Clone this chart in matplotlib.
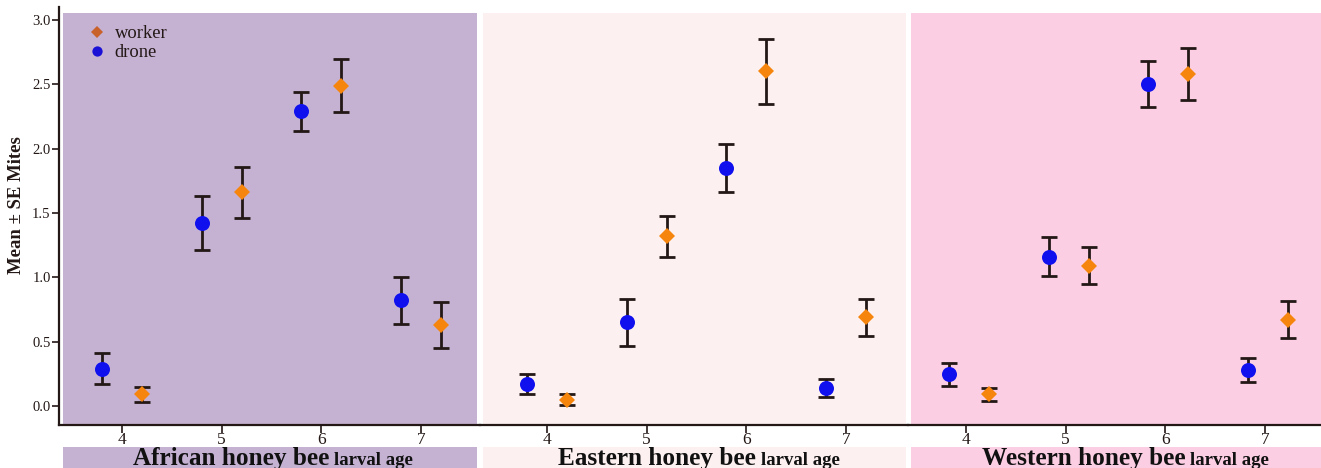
import matplotlib
matplotlib.use("Agg")
import matplotlib.pyplot as plt
from matplotlib.lines import Line2D
from matplotlib.patches import Rectangle
import matplotlib.transforms as mtransforms

plt.rcParams['font.family'] = ['Liberation Serif', 'DejaVu Serif']

# ---------------- data ----------------
ages = [4, 5, 6, 7]
species = ["African honey bee", "Eastern honey bee", "Western honey bee"]
xlabel_suffix = "larval age"

drone_mean = {
    "African honey bee": [0.29, 1.42, 2.29, 0.82],
    "Eastern honey bee": [0.17, 0.65, 1.85, 0.14],
    "Western honey bee": [0.245, 1.16, 2.50, 0.28],
}
drone_se = {
    "African honey bee": [0.12, 0.21, 0.15, 0.18],
    "Eastern honey bee": [0.08, 0.18, 0.185, 0.07],
    "Western honey bee": [0.09, 0.15, 0.18, 0.09],
}
worker_mean = {
    "African honey bee": [0.09, 1.66, 2.49, 0.63],
    "Eastern honey bee": [0.05, 1.32, 2.60, 0.69],
    "Western honey bee": [0.09, 1.09, 2.58, 0.67],
}
worker_se = {
    "African honey bee": [0.056, 0.20, 0.205, 0.18],
    "Eastern honey bee": [0.045, 0.16, 0.255, 0.145],
    "Western honey bee": [0.05, 0.145, 0.205, 0.145],
}
yticks = [0.0, 0.5, 1.0, 1.5, 2.0, 2.5, 3.0]
ylabel = "Mean \u00b1 SE Mites"
legend_labels = ["worker", "drone"]

# ---------------- style ----------------
W, H = 1321, 468
DPI = 100
PXU = 99.6  # pixels per x unit
panel_bg = ["#c5b2d3", "#fdf0f0", "#fbcee3"]
worker_col = "#f5850c"
drone_col = "#1010ee"
err_col = "#231816"
dark = "#231816"

# axes pixel extents (left, right), pixel of tick 4, bg extents
ax_px = [(59, 480, 122, 63, 477.3), (480, 908, 547, 482.7, 906), (908, 1321, 966, 910.7, 1330)]
dodge_shift = [0.0, 0.0, 0.03]
split_px = [332, 758, 1188]

ax_bottom_px = 425
ax_top_px = 7
bg_top_px = 13
y0_px, y3_px = 406, 20
ppu_y = (y0_px - y3_px) / 3.0
ylim = (-(ax_bottom_px - y0_px) / ppu_y, (y0_px - ax_top_px) / ppu_y)
ax_h_px = ax_bottom_px - ax_top_px

fig = plt.figure(figsize=(W / DPI, H / DPI), dpi=DPI)

axes = []
for i, sp in enumerate(species):
    l, r, t4, bg0, bg1 = ax_px[i]
    ax = fig.add_axes([l / W, (H - ax_bottom_px) / H, (r - l) / W, ax_h_px / H])
    axes.append(ax)
    xlim = (4 - (t4 - l) / PXU, 4 + (r - t4) / PXU)
    ax.set_xlim(*xlim)
    ax.set_ylim(*ylim)
    ax.patch.set_alpha(0)
    bgx0 = 4 - (t4 - bg0) / PXU
    bgx1 = 4 + (bg1 - t4) / PXU
    ymaxf = (ax_bottom_px - bg_top_px) / ax_h_px
    ax.axvspan(bgx0, bgx1, ymin=0, ymax=ymaxf, color=panel_bg[i], lw=0, zorder=0)

    xd = [a - 0.2 + dodge_shift[i] for a in ages]
    xw = [a + 0.2 + dodge_shift[i] for a in ages]
    ax.errorbar(xd, drone_mean[sp], yerr=drone_se[sp], fmt='none', ecolor=err_col,
                elinewidth=2.0, capsize=6, capthick=2.0, zorder=2)
    ax.errorbar(xw, worker_mean[sp], yerr=worker_se[sp], fmt='none', ecolor=err_col,
                elinewidth=2.0, capsize=6, capthick=2.0, zorder=2)
    ax.plot(xd, drone_mean[sp], 'o', color=drone_col, markersize=10.8, mew=0, zorder=3)
    ax.plot(xw, worker_mean[sp], 'D', color=worker_col, markersize=8.2, mew=0, zorder=3)

    ax.set_xticks(ages)
    ax.set_xticklabels([str(a) for a in ages])
    ax.tick_params(axis='x', direction='out', length=5.5, width=1.2, pad=-0.5,
                   labelsize=12.5, colors=dark)
    for s in ['top', 'right']:
        ax.spines[s].set_visible(False)
    ax.spines['bottom'].set_linewidth(1.6)
    ax.spines['bottom'].set_color(dark)
    if i == 0:
        ax.spines['left'].set_linewidth(1.6)
        ax.spines['left'].set_color(dark)
        ax.set_yticks(yticks)
        ax.set_yticklabels([f"{v:.1f}" for v in yticks])
        ax.tick_params(axis='y', direction='out', length=5, width=1.2, pad=1,
                       labelsize=10.5, colors=dark)
        ax.set_ylabel(ylabel, fontsize=13.5, fontweight='bold', color=dark)
    else:
        ax.spines['left'].set_visible(False)
        ax.set_yticks([])

    # label band below the axis
    blend = mtransforms.blended_transform_factory(ax.transData, fig.transFigure)
    band_h = (H - 446.7) / H
    rect = Rectangle((bgx0, 0), bgx1 - bgx0, band_h, transform=blend,
                     facecolor=panel_bg[i], edgecolor='none', clip_on=False, zorder=0)
    fig.add_artist(rect)
    sx = 4 + (split_px[i] - t4) / PXU
    base_y = (H - 465) / H
    fig.text(sx - 2.5 / PXU, base_y, sp, transform=blend, ha='right', va='baseline',
             fontsize=18.2, fontweight='bold', color='#111111')
    fig.text(sx + 2.5 / PXU, base_y, xlabel_suffix, transform=blend, ha='left', va='baseline',
             fontsize=13.5, fontweight='bold', color='#111111')

axes[0].yaxis.set_label_coords((25 - 59) / (480 - 59), (ax_bottom_px - 205) / ax_h_px)

handles = [
    Line2D([], [], marker='D', color='#c8622a', linestyle='none', markersize=6.0, mew=0),
    Line2D([], [], marker='o', color='#1a10d6', linestyle='none', markersize=7.4, mew=0),
]
leg = axes[0].legend(handles, legend_labels, loc='upper left',
                     bbox_to_anchor=((88 - 59) / (480 - 59), (ax_bottom_px - 25) / ax_h_px),
                     frameon=False, fontsize=13.3, handlelength=1.0, handletextpad=0.45,
                     labelspacing=0.12, borderpad=0, borderaxespad=0)
for t in leg.get_texts():
    t.set_color(dark)

fig.savefig("out.png", dpi=DPI)
